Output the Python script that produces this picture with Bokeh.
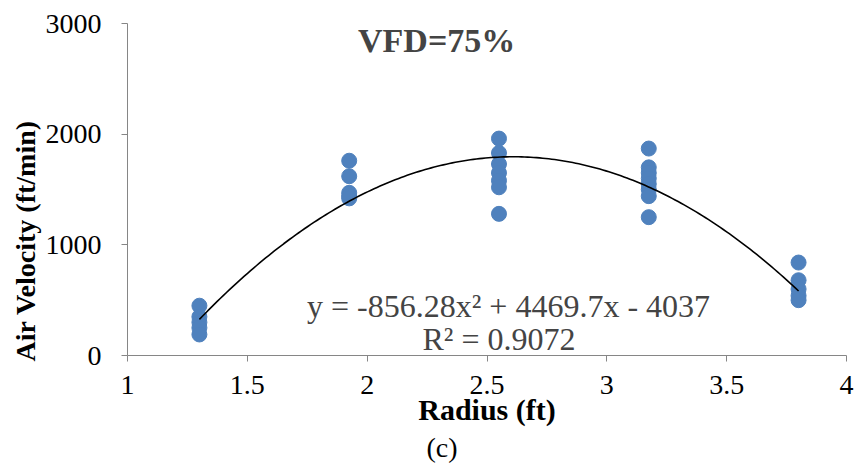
import numpy as np
from bokeh.plotting import figure
from bokeh.models import Label, Title, Range1d, FixedTicker
from bokeh.embed import file_html
from bokeh.resources import INLINE

# ---- data ----
radius_levels = [1.3, 1.925, 2.55, 3.175, 3.8]
vel_r1 = [450, 350, 300, 250, 190]
vel_r2 = [1760, 1620, 1470, 1440, 1420]
vel_r3 = [1960, 1830, 1730, 1650, 1580, 1520, 1280]
vel_r4 = [1870, 1700, 1650, 1600, 1550, 1500, 1440, 1250]
vel_r5 = [840, 680, 600, 540, 500]
trend_a, trend_b, trend_c = -856.28, 4469.7, -4037.0
x_ticks = [1, 1.5, 2, 2.5, 3, 3.5, 4]
x_tick_labels = ["1", "1.5", "2", "2.5", "3", "3.5", "4"]
y_ticks = [0, 1000, 2000, 3000]
title_text = "VFD=75%"
eq_text = "y = -856.28x² + 4469.7x - 4037"
r2_text = "R² = 0.9072"
x_title = "Radius (ft)"
y_title = "Air Velocity (ft/min)"
caption = "(c)"

groups = [vel_r1, vel_r2, vel_r3, vel_r4, vel_r5]
xs, ys = [], []
for r, g in zip(radius_levels, groups):
    xs += [r] * len(g)
    ys += g

FONT = "'Liberation Serif', serif"
AX = "#868686"

p = figure(width=856, height=470, output_backend="svg", toolbar_location=None,
           x_range=Range1d(1, 4), y_range=Range1d(0, 3000),
           min_border_left=127, min_border_right=10, min_border_top=23,
           min_border_bottom=115)
p.outline_line_color = None
p.grid.visible = False
p.background_fill_color = "white"

p.scatter(xs, ys, size=15, color="#4F81BD", line_color="#4F81BD")

tx = np.linspace(radius_levels[0], radius_levels[-1], 200)
ty = trend_a * tx ** 2 + trend_b * tx + trend_c
p.line(tx, ty, line_color="black", line_width=1.6)

for ax in (p.xaxis[0], p.yaxis[0]):
    ax.axis_line_color = AX
    ax.major_tick_line_color = AX
    ax.minor_tick_line_color = None
    ax.major_tick_out = 6
    ax.major_tick_in = 0
    ax.major_label_text_font = FONT
    ax.major_label_text_font_size = "28px"
    ax.major_label_text_color = "black"
    ax.axis_label_text_font = FONT
    ax.axis_label_text_font_size = "30px"
    ax.axis_label_text_font_style = "bold"
    ax.axis_label_text_color = "black"

p.xaxis.ticker = FixedTicker(ticks=x_ticks)
p.xaxis.major_label_overrides = {t: l for t, l in zip(x_ticks, x_tick_labels)}
p.yaxis.ticker = FixedTicker(ticks=y_ticks)
p.xaxis.axis_label = x_title
p.xaxis.major_label_standoff = 14
p.xaxis.axis_label_standoff = -4
p.yaxis.major_label_standoff = 20

# y-axis title is shifted downward in the reference (starts near the x axis)
p.add_layout(Title(text=y_title, align="left", offset=-6, text_font=FONT,
                   text_font_size="28px", text_font_style="bold",
                   text_color="black", standoff=4), "left")

p.add_layout(Label(x=2.29, y=2850, text=title_text, text_font=FONT,
                   text_font_size="34px", text_font_style="bold",
                   text_align="center", text_baseline="middle"))
p.add_layout(Label(x=2.59, y=450, text=eq_text, text_font=FONT,
                   text_font_size="32px", text_align="center",
                   text_baseline="middle"))
p.add_layout(Label(x=2.55, y=145, text=r2_text, text_font=FONT,
                   text_font_size="32px", text_align="center",
                   text_baseline="middle"))

p.add_layout(Title(text=caption, align="left", offset=299, text_font=FONT,
                   text_font_size="28px", text_font_style="normal",
                   text_color="black", standoff=2), "below")

open("out.html", "w").write(file_html(p, INLINE))
